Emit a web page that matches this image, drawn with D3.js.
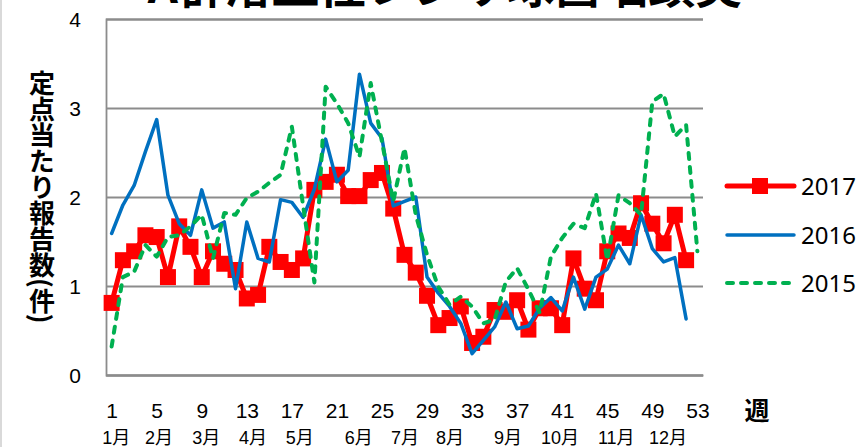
<!DOCTYPE html>
<html><head><meta charset="utf-8">
<script src="https://cdn.jsdelivr.net/npm/d3@7"></script>
<style>
html,body{margin:0;padding:0;background:#fff;}
svg{display:block;}
</style></head>
<body>
<svg id="c" width="856" height="447"></svg>
<script>
// ---- data ----
const weeks = d3.range(1, 54);
const s2017 = [0.81,1.29,1.39,1.57,1.55,1.10,1.67,1.44,1.10,1.39,1.25,1.18,0.86,0.90,1.44,1.27,1.18,1.31,2.08,2.17,2.25,2.01,2.01,2.19,2.27,1.87,1.35,1.15,0.89,0.56,0.64,0.77,0.36,0.43,0.73,0.71,0.84,0.51,0.75,0.75,0.56,1.31,0.97,0.84,1.39,1.59,1.54,1.93,1.70,1.48,1.80,1.29];
const s2016 = [1.59,1.91,2.13,2.51,2.87,2.02,1.70,1.57,2.08,1.65,1.72,0.97,1.72,1.31,1.27,1.97,1.94,1.77,2.09,2.65,2.17,2.30,3.38,2.83,2.66,1.90,1.95,2.00,1.10,0.92,0.77,0.58,0.24,0.39,0.54,0.82,0.52,0.55,0.75,0.87,0.72,1.10,0.74,1.10,1.19,1.46,1.25,1.80,1.42,1.27,1.32,0.63];
const s2015 = [0.32,1.10,1.16,1.46,1.33,1.55,1.57,1.67,1.80,1.31,1.82,1.80,1.99,2.06,2.16,2.25,2.79,1.90,1.04,3.24,3.05,2.83,2.45,3.28,2.62,1.95,2.55,1.80,1.35,0.99,0.79,0.88,0.77,0.58,0.62,1.05,1.20,0.96,0.70,1.33,1.54,1.70,1.65,2.04,1.29,2.02,1.93,1.80,3.07,3.16,2.68,2.81,1.39];
const seriesNames = ["2017", "2016", "2015"];
const yTicks = [0, 1, 2, 3, 4];
const xTicks = [1, 5, 9, 13, 17, 21, 25, 29, 33, 37, 41, 45, 49, 53];
const monthLabels = ["1月","2月","3月","4月","5月","6月","7月","8月","9月","10月","11月","12月"];
const monthWeeks = [1.4, 5.2, 9.4, 13.55, 17.7, 22.95, 27.05, 31.05, 36.2, 40.8, 45.8, 50.4];
const titleText = "A群溶血性レンサ球菌咽頭炎";
const yTitle = "定点当たり報告数(件)";
const xTitle = "週";

// ---- layout ----
const svg = d3.select("#c");
const L = 106, R = 703, T = 19, B = 375;
const x = d3.scaleLinear().domain([0.5, 53.5]).range([L, R]);
const y = d3.scaleLinear().domain([0, 4]).range([B, T]);
const numFont = "'Liberation Sans',Arial,'Noto Sans CJK JP',sans-serif";
const gridColor = "#8c8c8c";

// left border
svg.append("line").attr("x1", 1).attr("x2", 1).attr("y1", 0).attr("y2", 447)
  .attr("stroke", "#d9d9d9").attr("stroke-width", 2);

// title (cut off at top)
const title = svg.append("text").attr("y", 3)
  .attr("font-family", "'Noto Sans CJK JP',sans-serif").attr("font-weight", "bold")
  .attr("font-size", 47).attr("fill", "#000").text(titleText);
const aw = title.node().getSubStringLength(0, 1);
title.attr("x", 178 - aw);

// y axis with gridlines
const yAxis = svg.append("g").attr("transform", `translate(${L},0)`)
  .call(d3.axisLeft(y).tickValues(yTicks).tickSize(-(R - L)).tickPadding(26).tickFormat(d3.format("d")));
yAxis.select(".domain").attr("stroke", gridColor).attr("stroke-width", 1.8);
yAxis.selectAll(".tick line").attr("stroke", gridColor).attr("stroke-width", 1.8);
yAxis.selectAll("text").attr("font-family", numFont).attr("font-size", 21).attr("fill", "#000")
  .attr("text-anchor", "middle").attr("x", -31).attr("dy", "0.36em");

// x axis
const xAxis = svg.append("g").attr("transform", `translate(0,${B})`)
  .call(d3.axisBottom(x).tickValues(xTicks).tickSize(0).tickSizeOuter(0));
xAxis.select(".domain").attr("stroke", gridColor).attr("stroke-width", 1.8);
xAxis.selectAll("text").attr("font-family", numFont).attr("font-size", 21).attr("fill", "#000")
  .attr("y", 43).attr("dy", 0);

// month labels
svg.append("g").selectAll("text").data(monthLabels).join("text")
  .attr("x", (d, i) => x(monthWeeks[i])).attr("y", 444)
  .attr("text-anchor", "middle").attr("font-family", numFont).attr("font-size", 18).attr("fill", "#000")
  .text(d => d);

// x title
svg.append("text").attr("x", 757).attr("y", 420).attr("text-anchor", "middle")
  .attr("font-family", "'Noto Sans CJK JP',sans-serif").attr("font-weight", "bold").attr("font-size", 25)
  .attr("fill", "#000").text(xTitle);

// y title (vertical)
svg.append("text").attr("x", 42).attr("y", 70)
  .style("writing-mode", "vertical-rl")
  .attr("font-family", "'Noto Sans CJK JP',sans-serif").attr("font-weight", "bold").attr("font-size", 26)
  .attr("fill", "#000").text(yTitle);

// ---- series ----
const line = d3.line().x((d, i) => x(weeks[i])).y(d => y(d));
const plot = svg.append("g");
const styles = {
  "2017": {data: s2017, color: "#FF0000", width: 5, dash: null, marker: true},
  "2016": {data: s2016, color: "#0070C0", width: 3.5, dash: null, marker: false},
  "2015": {data: s2015, color: "#00B050", width: 4, dash: "6,8", marker: false}
};
seriesNames.forEach(n => {
  const s = styles[n];
  plot.append("path").datum(s.data).attr("d", line)
    .attr("fill", "none").attr("stroke", s.color).attr("stroke-width", s.width)
    .attr("stroke-linejoin", "round").attr("stroke-linecap", "round")
    .attr("stroke-dasharray", s.dash);
  if (s.marker) {
    plot.append("g").selectAll("rect").data(s.data).join("rect")
      .attr("x", (d, i) => x(weeks[i]) - 8).attr("y", d => y(d) - 8)
      .attr("width", 16).attr("height", 16).attr("fill", s.color);
  }
});

// ---- legend ----
const legY = [186, 235, 283];
seriesNames.forEach((n, i) => {
  const s = styles[n];
  const g = svg.append("g").attr("transform", `translate(0,${legY[i]})`);
  g.append("line").attr("x1", 727).attr("x2", 794).attr("y1", 0).attr("y2", 0)
    .attr("stroke", s.color).attr("stroke-width", s.width)
    .attr("stroke-linecap", "round").attr("stroke-dasharray", s.dash);
  if (s.marker) g.append("rect").attr("x", 752).attr("y", -8).attr("width", 16).attr("height", 16).attr("fill", s.color);
  g.append("text").attr("x", 801).attr("y", 0).attr("dy", "0.36em")
    .attr("font-family", "'Noto Sans','Open Sans',sans-serif").attr("font-size", 24).attr("fill", "#000").text(n);
});
</script>
</body></html>
